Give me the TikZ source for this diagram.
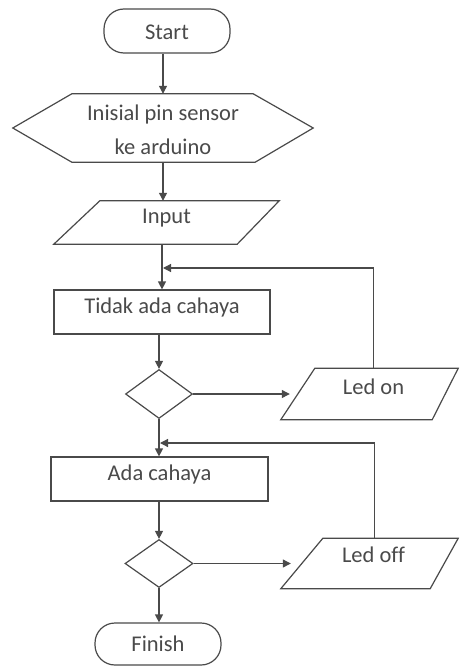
\documentclass[tikz,border=0pt]{standalone}
\usepackage{fontspec}
\setmainfont{Carlito}[Ligatures=NoCommon]
\usetikzlibrary{arrows.meta,shapes.geometric}

\definecolor{ink}{HTML}{4A4A4A}
\definecolor{txt}{HTML}{4A4A4A}

\begin{document}
\begin{tikzpicture}[x=1pt,y=-1pt,
  line/.style={draw=ink,line width=1.2pt},
  flow/.style={line,-{Triangle[length=8pt,width=8pt]}},
  lbl/.style={text=txt,font=\fontsize{22.5}{27}\selectfont,inner sep=0pt},
  frame/.style={rectangle,inner sep=0pt},
  term/.style={frame,line,rounded corners=20pt},
  proc/.style={frame,line},
  hole/.style={frame},
  dec/.style={diamond,line,inner sep=0pt}
]
\useasboundingbox[fill=white] (0,0) rectangle (459,666);

% terminators, processes and decisions
\node[term,minimum width=126pt,minimum height=44pt,
      label={[lbl,yshift=-1pt]center:Start}] (start) at (167,31) {};
\node[hole,minimum width=300pt,minimum height=68pt] (init) at (163,128) {};
\node[lbl,align=center,font=\fontsize{22.5}{34}\selectfont] (initt) at (163,130)
      {Inisial pin sensor\\ke arduino};
\node[hole,minimum width=225pt,minimum height=43pt,
      label={[lbl,yshift=4pt]center:Input}] (input) at (166.5,222.5) {};
\node[proc,minimum width=216pt,minimum height=44pt,
      label={[lbl,yshift=5pt]center:Tidak ada cahaya}] (tidak) at (162,312) {};
\node[dec,minimum width=67pt,minimum height=49pt] (d1) at (159,394) {};
\node[hole,minimum width=177pt,minimum height=51pt,
      label={[lbl,yshift=7pt,xshift=4pt]center:Led on}] (ledon) at (369.5,394) {};
\node[proc,minimum width=217pt,minimum height=44pt,
      label={[lbl,yshift=5pt]center:Ada cahaya}] (ada) at (159.5,479) {};
\node[dec,minimum width=68pt,minimum height=48pt] (d2) at (159,563.5) {};
\node[hole,minimum width=177pt,minimum height=50pt,
      label={[lbl,yshift=9pt,xshift=4pt]center:Led off}] (ledoff) at (369.5,563.5) {};
\node[term,minimum width=126pt,minimum height=42pt,
      label={[lbl]center:Finish}] (finish) at (158,644) {};

% hexagon and parallelogram outlines
\draw[line] ([xshift=59pt]init.north west) -- ([xshift=-60pt]init.north east)
  -- (init.east) -- ([xshift=-58pt]init.south east)
  -- ([xshift=59pt]init.south west) -- (init.west) -- cycle;
\draw[line] ([xshift=46pt]input.north west) -- (input.north east)
  -- ([xshift=-42pt]input.south east) -- (input.south west) -- cycle;
\draw[line] ([xshift=34pt]ledon.north west) -- (ledon.north east)
  -- ([xshift=-26pt]ledon.south east) -- (ledon.south west) -- cycle;
\draw[line] ([xshift=42pt]ledoff.north west) -- (ledoff.north east)
  -- ([xshift=-28pt]ledoff.south east) -- (ledoff.south west) -- cycle;

% loop-back joints on the main line
\coordinate (j1) at (162,268);
\coordinate (j2) at (159,443);

% main flow
\draw[flow] (init.north |- start.south) -- (init.north);
\draw[flow] (init.south) -- (init.south |- input.north);
\draw[flow] (tidak.north |- input.south) -- (tidak.north);
\draw[flow] (tidak.south -| d1.north) -- (d1.north);
\draw[flow] (d1.south) -- (d1.south |- ada.north);
\draw[flow] (ada.south -| d2.north) -- (d2.north);
\draw[flow] (d2.south) -- (d2.south |- finish.north);

% branches and loops
\draw[flow] (d1.east) -- ([xshift=9pt]ledon.west);
\draw[flow] (d2.east) -- ([xshift=10pt]ledoff.west);
\draw[flow,shorten >=1pt] ([xshift=4pt]ledon.north) |- (j1);
\draw[flow,shorten >=1pt] ([xshift=5pt]ledoff.north) |- (j2);
\end{tikzpicture}
\end{document}
